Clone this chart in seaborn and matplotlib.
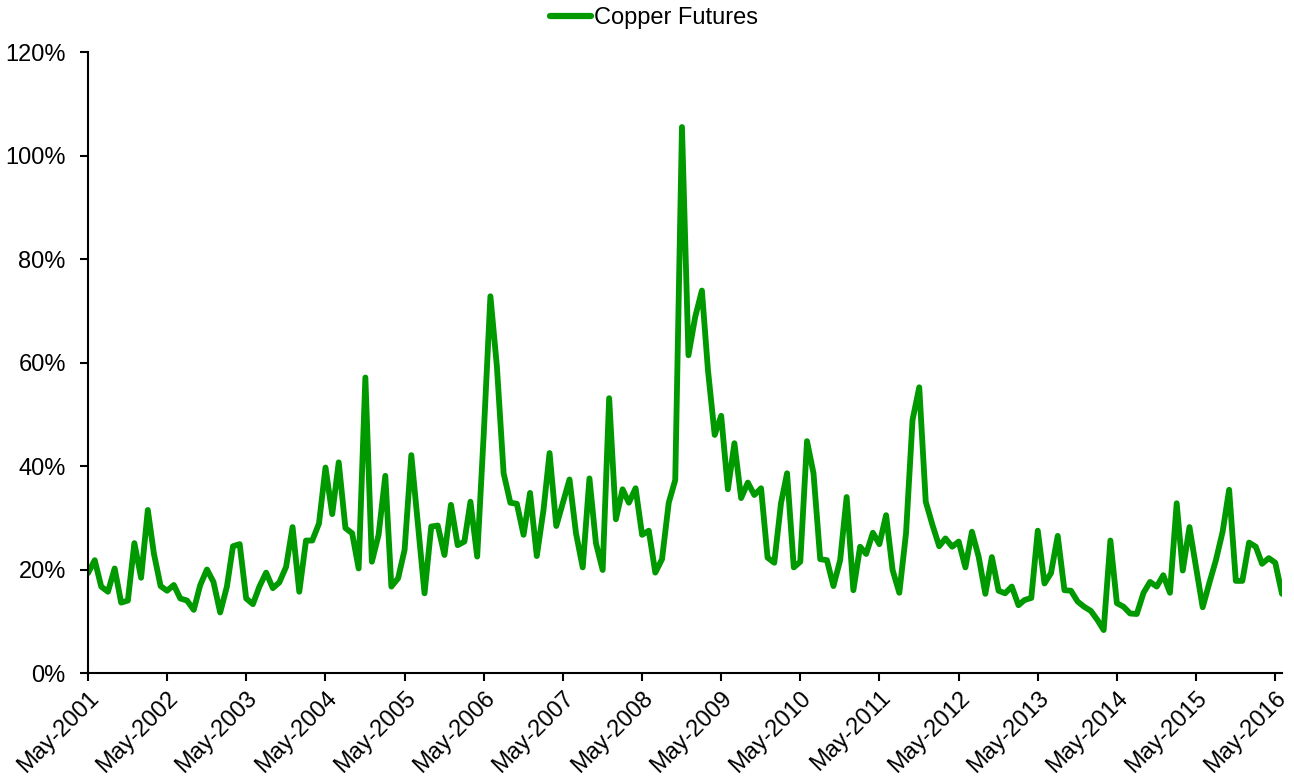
import matplotlib
matplotlib.use("Agg")
import matplotlib.pyplot as plt
import matplotlib.dates as mdates
import matplotlib.ticker as mticker
import seaborn as sns
import pandas as pd
import numpy as np

start_month = "2001-05-01"
series_name = "Copper Futures"
values = [
    19.3, 21.8, 16.7, 15.7, 20.2, 13.6, 14.0, 25.1, 18.4, 31.5,
    23.1, 16.8, 15.9, 17.0, 14.4, 14.0, 12.2, 17.0, 20.0, 17.6,
    11.7, 16.7, 24.5, 24.9, 14.4, 13.3, 16.7, 19.4, 16.4, 17.5,
    20.5, 28.2, 15.7, 25.6, 25.6, 28.9, 39.7, 30.7, 40.7, 28.0,
    27.0, 20.2, 57.1, 21.5, 26.7, 38.1, 16.7, 18.3, 23.8, 42.1,
    29.0, 15.4, 28.3, 28.5, 22.8, 32.5, 24.7, 25.4, 33.1, 22.5,
    46.0, 72.8, 59.2, 38.6, 32.9, 32.7, 26.7, 34.8, 22.6, 31.5,
    42.5, 28.4, 32.8, 37.4, 27.0, 20.4, 37.6, 25.1, 19.9, 53.1,
    29.7, 35.5, 32.9, 35.7, 26.7, 27.5, 19.4, 22.0, 32.9, 37.3,
    105.5, 61.4, 68.8, 73.9, 58.5, 46.0, 49.7, 35.5, 44.4, 33.8,
    36.8, 34.4, 35.7, 22.3, 21.3, 32.8, 38.6, 20.4, 21.5, 44.8,
    38.6, 22.0, 21.8, 16.8, 21.8, 34.0, 16.0, 24.4, 23.0, 27.1,
    24.9, 30.5, 19.9, 15.5, 27.0, 48.9, 55.2, 33.1, 28.6, 24.5,
    26.0, 24.4, 25.4, 20.4, 27.3, 22.5, 15.3, 22.4, 15.9, 15.4,
    16.7, 13.1, 14.1, 14.5, 27.5, 17.3, 19.3, 26.5, 16.0, 15.9,
    13.8, 12.8, 12.0, 10.2, 8.3, 25.6, 13.5, 12.8, 11.5, 11.4,
    15.5, 17.6, 16.7, 18.9, 15.5, 32.8, 19.8, 28.2, 20.5, 12.7,
    17.3, 21.8, 27.3, 35.4, 17.8, 17.8, 25.2, 24.4, 21.1, 22.2,
    21.3, 15.3,
]
y_ticks = [0, 20, 40, 60, 80, 100, 120]

dates = pd.date_range(start_month, periods=len(values), freq="MS")
df = pd.DataFrame({"date": dates, "value": np.array(values) / 100.0, "series": series_name})

sns.set_theme(style="white")
plt.rcParams["font.family"] = ["Liberation Sans", "DejaVu Sans"]
plt.rcParams["text.color"] = "black"

fig = plt.figure(figsize=(12.94, 7.78), dpi=100)
ax = fig.add_axes([88 / 1294, 1 - 673 / 778, (1282 - 88) / 1294, (673 - 52) / 778])

sns.lineplot(data=df, x="date", y="value", hue="series", palette=["#009900"],
             linewidth=4.2, ax=ax, legend=True)

ax.set_xlim(dates[0], dates[-1])
ax.set_ylim(0, 1.2)
ax.set_yticks([t / 100 for t in y_ticks])
ax.yaxis.set_major_formatter(mticker.FuncFormatter(lambda v, p: f"{v*100:.0f}%"))
ax.xaxis.set_major_locator(mdates.MonthLocator(bymonth=5))
ax.xaxis.set_major_formatter(mdates.DateFormatter("%b-%Y"))

for side in ["top", "right"]:
    ax.spines[side].set_visible(False)
for side in ["left", "bottom"]:
    ax.spines[side].set_color("black")
    ax.spines[side].set_linewidth(1.5)

ax.tick_params(axis="both", which="major", direction="out", length=6, width=1.5,
               color="black", labelsize=17, labelcolor="black", bottom=True, left=True)
ax.tick_params(axis="y", pad=10)
ax.tick_params(axis="x", pad=4)
for lbl in ax.get_xticklabels():
    lbl.set_rotation(45)
    lbl.set_ha("right")
    lbl.set_rotation_mode("anchor")

ax.set_xlabel("")
ax.set_ylabel("")
ax.grid(False)

handles, labels = ax.get_legend_handles_labels()
ax.get_legend().remove()
leg = fig.legend(handles, labels, loc="center left",
                 bbox_to_anchor=(550 / 1294, 1 - 18 / 778), frameon=False,
                 fontsize=17, handlelength=1.75, handletextpad=0.12,
                 borderpad=0, borderaxespad=0)
for t in leg.get_texts():
    t.set_color("black")
for h in leg.get_lines():
    h.set_linewidth(4.5)

fig.savefig("out.png", dpi=100)
